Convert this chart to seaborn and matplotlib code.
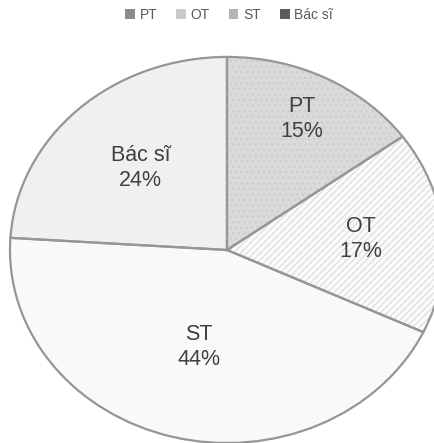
import matplotlib
matplotlib.use("Agg")
import matplotlib.pyplot as plt
import seaborn as sns
import numpy as np
from matplotlib.patches import Patch

categories = ["PT", "OT", "ST", "Bác sĩ"]
values = [15, 17, 44, 24]
fill_colors = ["#dadada", "#fbfbfb", "#f9f9f9", "#f0f0f0"]
hatches = ["...", "/////", "", ""]
hatch_colors = ["#cccccc", "#dddddd", "#f9f9f9", "#f0f0f0"]
legend_colors = ["#8c8c8c", "#cbcbcb", "#b3b3b3", "#5c5c5c"]
label_radius = [0.76, 0.62, 0.52, 0.58]

sns.set_theme(style="white")
plt.rcParams['font.family'] = ['Liberation Sans', 'DejaVu Sans']
plt.rcParams['hatch.linewidth'] = 0.9

fig = plt.figure(figsize=(4.34, 4.43), dpi=100)
ax = fig.add_axes([0, 0, 1, 1])

# filled, hatched wedges (hatch takes edge colour)
wedges, _ = ax.pie(values, startangle=90, counterclock=False, colors=fill_colors,
                   wedgeprops=dict(linewidth=0))
for w, h, hc in zip(wedges, hatches, hatch_colors):
    w.set_hatch(h)
    w.set_edgecolor(hc)

# outline pass
outline, _ = ax.pie(values, startangle=90, counterclock=False,
                    wedgeprops=dict(facecolor="none", edgecolor="#969696", linewidth=1.6))

for w, cat, v, r in zip(wedges, categories, values, label_radius):
    ang = np.deg2rad((w.theta1 + w.theta2) / 2)
    ax.text(r * np.cos(ang), r * np.sin(ang), f"{cat}\n{v}%", ha="center", va="center",
            fontsize=15.5, color="#404040", linespacing=1.25)

ax.set_aspect('auto')
ax.set_xlim(-1.046, 0.954)
ax.set_ylim(-1.0, 1.295)
ax.axis('off')

handles = [Patch(facecolor=c, edgecolor='none', label=l) for c, l in zip(legend_colors, categories)]
fig.legend(handles=handles, loc="center", bbox_to_anchor=(0.528, 0.966), ncol=4,
           frameon=False, fontsize=10, handlelength=0.7, handleheight=0.7,
           handletextpad=0.35, columnspacing=1.35, labelcolor="#595959")

fig.savefig("out.png", dpi=100)
